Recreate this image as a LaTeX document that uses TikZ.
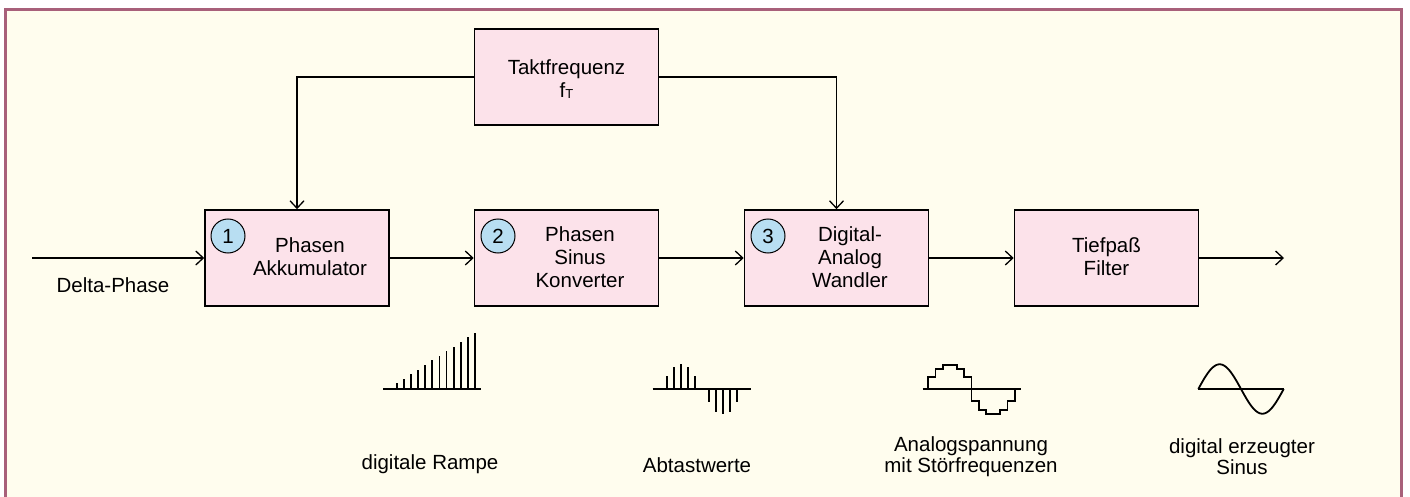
\documentclass[tikz,border=0pt]{standalone}
\usepackage{fontspec}
\setmainfont{Liberation Sans}
\usetikzlibrary{arrows.meta}
\definecolor{bgcream}{RGB}{255,253,238}
\definecolor{framecol}{RGB}{168,96,122}
\definecolor{boxfill}{RGB}{252,226,234}
\definecolor{circfill}{RGB}{184,222,242}
\tikzset{
  blockbox/.style={draw=black, line width=1.6pt, fill=boxfill, minimum width=184pt, minimum height=96pt, inner sep=0pt},
  btext/.style={align=center, font=\fontsize{20.5}{23}\selectfont, inner sep=0pt},
  numcirc/.style={circle, draw=black, line width=1pt, fill=circfill, minimum size=34pt, inner sep=0pt, font=\fontsize{20.5}{22}\selectfont},
  arr/.style={line width=1.3pt, -{Straight Barb[length=7.5pt,width=14pt,line width=1.3pt]}},
  wave/.style={line width=1.8pt},
  lbl/.style={align=center, font=\fontsize{20.5}{21}\selectfont, inner sep=0pt}
}
\begin{document}
\begin{tikzpicture}[x=1pt,y=-1pt]
\useasboundingbox (0,0) rectangle (1410,497);
\fill[white] (0,0) rectangle (1410,497);
\filldraw[fill=bgcream, draw=framecol, line width=2.8pt] (5.3,9.5) rectangle (1401.3,510);

% blocks
\node[blockbox] (clk) at (566.5,77) {};
\node[blockbox] (b1) at (297,258) {};
\node[blockbox] (b2) at (566.5,258) {};
\node[blockbox] (b3) at (836.5,258) {};
\node[blockbox] (b4) at (1106.5,258) {};

\node[btext] (tclk) at (566.5,79) {Taktfrequenz\\f\raisebox{-1pt}{\fontsize{13}{13}\selectfont T}};
\node[btext] (t1) at (310,257) {Phasen\\Akkumulator};
\node[btext] (t2) at (580,257) {Phasen\\Sinus\\Konverter};
\node[btext] (t3) at (850,257) {Digital-\\Analog\\Wandler};
\node[btext] (t4) at (1106.5,257) {Tiefpaß\\Filter};

\node[numcirc] (c1) at (228,236) {1};
\node[numcirc] (c2) at (498,236) {2};
\node[numcirc] (c3) at (768,236) {3};

% connectors
\coordinate (in) at (32,258);
\coordinate (out) at (1284,258);
\draw[arr] (in) -- (b1.west);
\draw[arr] (b1.east) -- (b2.west);
\draw[arr] (b2.east) -- (b3.west);
\draw[arr] (b3.east) -- (b4.west);
\draw[arr] (b4.east) -- (out);
\draw[arr] (clk.west) -| (b1.north);
\draw[arr] (clk.east) -| (b3.north);

\node[lbl] (dp) at (113,285) {Delta-Phase};

% ramp
\draw[wave] (383,389) -- (481,389);
\foreach \i in {0,...,11}{
  \draw[wave] ({396.7+7.12*\i},389) -- ({396.7+7.12*\i},{389-5.7-4.6*\i});
}
% samples
\draw[wave] (652.7,389) -- (751,389);
\foreach \xx/\hh in {666.7/13,673.7/22.3,680.7/25,688/22.3,695/13,709/-13.3,716.3/-22.7,723.3/-25,730.3/-22.7,737.3/-13.3}{
  \draw[wave] (\xx,389) -- (\xx,389-\hh);
}
% staircase
\draw[wave] (922.7,389) -- (1021,389);
\draw[wave] (928.3,389)
  -- ++(0,-12) -- ++(7.2,0) -- ++(0,-8.3) -- ++(7.2,0) -- ++(0,-3.4) -- ++(14.4,0)
  -- ++(0,3.4) -- ++(7.2,0) -- ++(0,8.3) -- ++(7.2,0) -- ++(0,12)
  -- ++(0,12.3) -- ++(7.2,0) -- ++(0,8.4) -- ++(7.2,0) -- ++(0,4) -- ++(14.4,0)
  -- ++(0,-4) -- ++(7.2,0) -- ++(0,-8.4) -- ++(7.2,0) -- ++(0,-12.3);
% sine
\draw[wave] (1198.3,389) -- (1284,389);
\draw[wave] plot[domain=0:360, samples=80, smooth] ({1198.3+\x/360*85.4},{389-24.7*sin(\x)});

% labels
\node[lbl] (lr) at (430,464) {digitale Rampe};
\node[lbl] (la) at (697,465) {Abtastwerte};
\node[lbl] (ls) at (971,457) {Analogspannung\\mit Störfrequenzen};
\node[lbl] (lsin) at (1242,457) {digital erzeugter\\Sinus};
\end{tikzpicture}
\end{document}
